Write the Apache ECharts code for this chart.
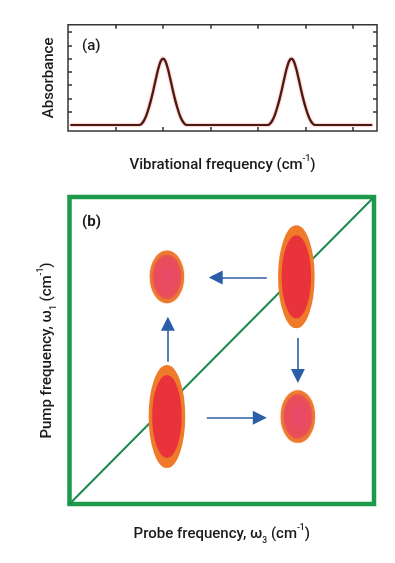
<!DOCTYPE html>
<html>
<head>
<meta charset="utf-8">
<script src="https://cdn.jsdelivr.net/npm/echarts@6/dist/echarts.min.js"></script>
<style>
html,body{margin:0;padding:0;background:#fff;}
#c{width:395px;height:563px;}
</style>
</head>
<body>
<div id="c"></div>
<script>
// ---- Panel (a): absorbance spectrum ----
const absX = [0.05, 1.5, 1.55, 1.6, 1.65, 1.7, 1.75, 1.8, 1.85, 1.9, 1.95, 2.0, 2.05, 2.1, 2.15, 2.2, 2.25, 2.3, 2.35, 2.4, 2.45, 2.5,
              4.2, 4.25, 4.3, 4.35, 4.4, 4.45, 4.5, 4.55, 4.6, 4.65, 4.7, 4.75, 4.8, 4.85, 4.9, 4.95, 5.0, 5.05, 5.1, 5.15, 5.2, 6.4];
const absY = [0, 0, 0.1, 0.35, 0.75, 1.3, 1.95, 2.7, 3.5, 4.25, 4.8, 5.0, 4.8, 4.25, 3.5, 2.7, 1.95, 1.3, 0.75, 0.35, 0.1, 0,
              0, 0.1, 0.35, 0.75, 1.3, 1.95, 2.7, 3.5, 4.25, 4.8, 5.0, 4.8, 4.25, 3.5, 2.7, 1.95, 1.3, 0.75, 0.35, 0.1, 0, 0];
const absXTicks = [1, 2, 3, 4, 5, 6];
const absYTicks = [1, 2, 3, 4, 5, 6, 7];

// ---- Panel (b): 2D spectrum ----
const diagLine = [[0, 0], [10, 10]];
const diagPeaks = [[3.2, 2.85], [7.45, 7.4]];
const crossPeaks = [[3.2, 7.4], [7.5, 2.85]];
const arrows = [
  [[6.48, 7.38], [4.8, 7.38]],
  [[3.23, 4.63], [3.23, 5.87]],
  [[7.5, 5.41], [7.5, 4.17]],
  [[4.51, 2.81], [6.25, 2.81]]
];

const FONT = 'Roboto';
const nameStyle = {
  fontFamily: FONT, fontSize: 15, fontWeight: 500, color: '#1a1a1a',
  rich: {
    sub: {fontFamily: FONT, fontSize: 8.5, fontWeight: 500, color: '#1a1a1a', verticalAlign: 'bottom', lineHeight: 22},
    sup: {fontFamily: FONT, fontSize: 8.5, fontWeight: 500, color: '#1a1a1a', verticalAlign: 'top', lineHeight: 22}
  }
};

const chart = echarts.init(document.getElementById('c'), null, {renderer: 'canvas'});

const frameTick = {show: true, inside: true, length: 4, lineStyle: {color: '#333', width: 1.5}};

chart.setOption({
  animation: false,
  backgroundColor: '#fff',
  grid: [
    {left: 68, top: 24.7, width: 309, height: 106.3, show: true, borderColor: '#353535', borderWidth: 1.5, backgroundColor: 'transparent'},
    {left: 69.5, top: 197, width: 304.5, height: 307, show: true, borderColor: '#1c9a4c', borderWidth: 4.5, backgroundColor: 'transparent'}
  ],
  xAxis: [
    {gridIndex: 0, type: 'value', min: 0, max: 6.5, position: 'bottom',
     axisLine: {show: false, onZero: false},
     axisTick: Object.assign({customValues: absXTicks}, frameTick),
     axisLabel: {show: false}, splitLine: {show: false},
     name: 'Vibrational frequency (cm{sup|-1})', nameLocation: 'middle', nameGap: 23,
     nameTextStyle: nameStyle},
    {gridIndex: 0, type: 'value', min: 0, max: 6.5, position: 'top',
     axisLine: {show: false, onZero: false},
     axisTick: Object.assign({customValues: absXTicks}, frameTick),
     axisLabel: {show: false}, splitLine: {show: false}},
    {gridIndex: 1, type: 'value', min: 0, max: 10, position: 'bottom',
     axisLine: {show: false, onZero: false}, axisTick: {show: false},
     axisLabel: {show: false}, splitLine: {show: false},
     name: 'Probe frequency, ω{sub|3} (cm{sup|-1})', nameLocation: 'middle', nameGap: 19,
     nameTextStyle: nameStyle}
  ],
  yAxis: [
    {gridIndex: 0, type: 'value', min: -0.45, max: 7.55, position: 'left',
     axisLine: {show: false, onZero: false},
     axisTick: Object.assign({customValues: absYTicks}, frameTick),
     axisLabel: {show: false}, splitLine: {show: false},
     name: 'Absorbance', nameLocation: 'middle', nameGap: 11, nameRotate: 90,
     nameTextStyle: nameStyle},
    {gridIndex: 0, type: 'value', min: -0.45, max: 7.55, position: 'right',
     axisLine: {show: false, onZero: false},
     axisTick: Object.assign({customValues: absYTicks}, frameTick),
     axisLabel: {show: false}, splitLine: {show: false}},
    {gridIndex: 1, type: 'value', min: 0, max: 10, position: 'left',
     axisLine: {show: false, onZero: false}, axisTick: {show: false},
     axisLabel: {show: false}, splitLine: {show: false},
     name: 'Pump frequency, ω{sub|1} (cm{sup|-1})', nameLocation: 'middle', nameGap: 11, nameRotate: 90,
     nameTextStyle: nameStyle}
  ],
  series: [
    {type: 'line', xAxisIndex: 0, yAxisIndex: 0,
     data: absX.map((x, i) => [x, absY[i]]),
     showSymbol: false, smooth: 0.3, z: 3,
     lineStyle: {color: '#4a1a12', width: 2.2, shadowColor: 'rgba(210,50,30,0.7)', shadowBlur: 2}},
    {type: 'line', xAxisIndex: 2, yAxisIndex: 2, data: diagLine,
     showSymbol: false, z: 2,
     lineStyle: {color: '#1b8a4f', width: 2}},
    {type: 'lines', coordinateSystem: 'cartesian2d', xAxisIndex: 2, yAxisIndex: 2, z: 4,
     data: arrows.map(a => ({coords: a})),
     symbol: ['none', 'triangle'], symbolSize: [13, 14],
     lineStyle: {color: '#2b5ea8', width: 1.6, opacity: 1}},
    {type: 'scatter', xAxisIndex: 2, yAxisIndex: 2, data: diagPeaks, z: 5,
     symbol: 'circle', symbolSize: [33, 93],
     itemStyle: {color: '#e8333a', borderColor: '#ee7a2a', borderWidth: 6, opacity: 1}},
    {type: 'scatter', xAxisIndex: 2, yAxisIndex: 2, data: crossPeaks, z: 5,
     symbol: 'circle', symbolSize: [32, 49],
     itemStyle: {
       color: new echarts.graphic.RadialGradient(0.5, 0.5, 0.5, [
         {offset: 0, color: '#e84a6c'},
         {offset: 0.7, color: '#e94c5a'},
         {offset: 1, color: '#ec6444'}
       ]),
       borderColor: 'rgba(238,122,48,1)', borderWidth: 3,
       shadowColor: 'rgba(240,140,70,0.5)', shadowBlur: 2, opacity: 1}}
  ],
  graphic: [
    {type: 'text', left: 82, top: 39, style: {text: '(a)', fontFamily: FONT, fontSize: 15, fontWeight: 500, fill: '#1a1a1a'}},
    {type: 'text', left: 82, top: 215, style: {text: '(b)', fontFamily: FONT, fontSize: 15, fontWeight: 700, fill: '#1a1a1a'}}
  ]
});
</script>
</body>
</html>
